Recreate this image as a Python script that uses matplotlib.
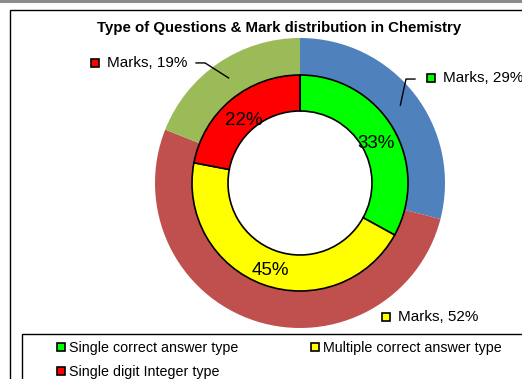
import numpy as np
import matplotlib.pyplot as plt
from matplotlib.lines import Line2D
from matplotlib.patches import Rectangle

plt.rcParams['font.family'] = ['Liberation Sans', 'DejaVu Sans']

# data
question_types = ['Single correct answer type', 'Multiple correct answer type', 'Single digit Integer type']
question_share = [33, 45, 22]
marks_share = [29, 52, 19]
marks_label = 'Marks'

inner_colors = ['#00FF00', '#FFFF00', '#FF0000']
outer_colors = ['#4F81BD', '#C0504D', '#9BBB59']

W, H = 522, 379
fig = plt.figure(figsize=(W / 100, H / 100), dpi=100)

# chart area border and top grey line
fig.patches.append(Rectangle((10 / W, -0.1), 1.2, 1 - 10 / H + 0.1, transform=fig.transFigure,
                             fill=False, edgecolor='black', linewidth=1.0))
fig.add_artist(Line2D([0, 1], [1 - 1 / H, 1 - 1 / H], transform=fig.transFigure,
                      color='#8c8c8c', linewidth=2.2))

# pie axes: centre (300, 183) px from top, radius 145 px
cx, cy, R = 300, H - 183, 145
ax = fig.add_axes([(cx - R) / W, (cy - R) / H, 2 * R / W, 2 * R / H])
ax.axis('off')

outer_w = (145 - 108) / 145
inner_r = 1 - outer_w
inner_w = (108 - 72) / 145

wedges_out, _ = ax.pie(marks_share, radius=1, colors=outer_colors, startangle=90, counterclock=False,
                       wedgeprops=dict(width=outer_w, linewidth=0))
wedges_in, _, pct = ax.pie(question_share, radius=inner_r, colors=inner_colors, startangle=90,
                           counterclock=False, autopct='%d%%', pctdistance=0.815,
                           wedgeprops=dict(width=inner_w, edgecolor='black', linewidth=1.2),
                           textprops=dict(fontsize=13.5))
for t in pct:
    x, y = t.get_position()
    t.set_position((x, y - 0.035))
ax.set_xlim(-1, 1)
ax.set_ylim(-1, 1)

# outer data labels: (square x, y) in axes data units, leader line elbow or None
label_pos = [(0.903, 0.724), (0.593, -0.924), (-1.414, 0.828)]
elbows = [(0.731, 0.717), None, (-0.655, 0.828)]
for w, val, col, pos, elb in zip(wedges_out, marks_share, inner_colors, label_pos, elbows):
    ang = np.deg2rad((w.theta1 + w.theta2) / 2)
    ax.plot(pos[0], pos[1], marker='s', markersize=5.8, markerfacecolor=col,
            markeredgecolor='black', markeredgewidth=1.2, clip_on=False)
    ax.text(pos[0] + 0.08, pos[1], f'{marks_label}, {val}%', fontsize=11,
            ha='left', va='center', clip_on=False)
    if elb is not None:
        anchor = (0.876 * np.cos(ang), 0.876 * np.sin(ang))
        sgn = 1 if elb[0] > 0 else -1
        start = (elb[0] + sgn * 0.062, elb[1])
        ax.plot([start[0], elb[0], anchor[0]], [start[1], elb[1], anchor[1]],
                color='black', linewidth=1.0, clip_on=False)

fig.text(279 / W, 1 - 28 / H, 'Type of Questions & Mark distribution in Chemistry',
         ha='center', va='center', fontsize=10.8, fontweight='bold')

# legend box
fig.patches.append(Rectangle((22 / W, -0.1), 1.2, 0.1 + 1 - 334 / H, transform=fig.transFigure,
                             fill=False, edgecolor='black', linewidth=1.0))
handles = [Line2D([], [], linestyle='none', marker='s', markersize=5.8, markerfacecolor=c,
                  markeredgecolor='black', markeredgewidth=1.2) for c in inner_colors]
order = [0, 2, 1]
fig.legend([handles[i] for i in order], [question_types[i] for i in order], ncol=2,
           loc='upper left', bbox_to_anchor=(56 / W, 1 - 341 / H), frameon=False,
           fontsize=10.3, handlelength=0.7, handletextpad=0.2, columnspacing=5.0,
           labelspacing=0.7, borderpad=0, borderaxespad=0)

fig.savefig('out.png', dpi=100)
